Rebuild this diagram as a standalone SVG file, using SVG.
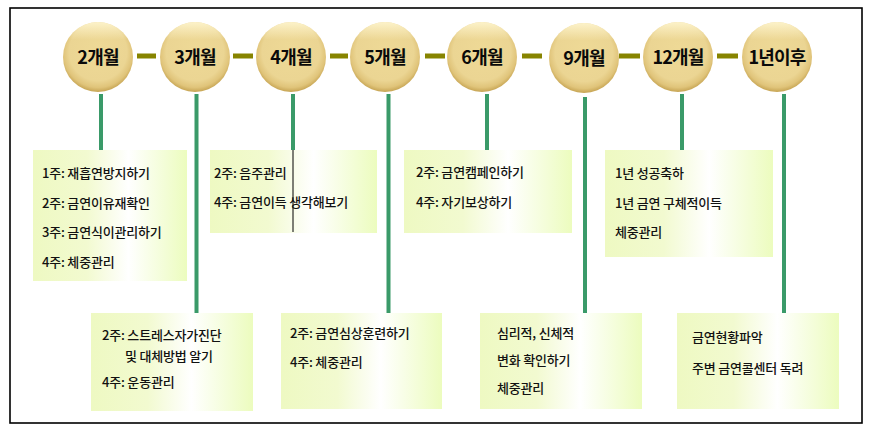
<svg xmlns="http://www.w3.org/2000/svg" width="871" height="431" viewBox="0 0 871 431">
<defs>
<radialGradient id="ball" cx="0.5" cy="0.45" r="0.55" fx="0.5" fy="0.35">
<stop offset="0" stop-color="#eed996"/>
<stop offset="0.75" stop-color="#ebd593"/>
<stop offset="0.9" stop-color="#e0c47a"/>
<stop offset="1" stop-color="#c6a453"/>
</radialGradient>
<linearGradient id="shine" x1="0" y1="0" x2="0" y2="1">
<stop offset="0" stop-color="#fff6d0" stop-opacity="0.9"/>
<stop offset="0.25" stop-color="#fff6d0" stop-opacity="0"/>
</linearGradient>
<linearGradient id="box" x1="0" y1="0" x2="1" y2="0">
<stop offset="0" stop-color="#eef9c2"/>
<stop offset="0.35" stop-color="#f2fad0"/>
<stop offset="0.62" stop-color="#ffffff"/>
<stop offset="1" stop-color="#ecfcbe"/>
</linearGradient>
<style>
.ball{fill:url(#ball)}
.shine{fill:url(#shine)}
.lbl{font-family:"Noto Sans CJK KR","Noto Sans",sans-serif;font-size:18px;font-weight:700;fill:#0a0a0a;text-anchor:middle;letter-spacing:-0.8px}
.box{fill:url(#box)}
.t{font-family:"Noto Sans CJK KR","Noto Sans",sans-serif;font-size:13px;font-weight:500;fill:#111;letter-spacing:-0.2px}
.dash{stroke:#878400;stroke-width:5}
.vl{stroke:#3a9a69;stroke-width:4}
</style>
</defs>
<rect x="10" y="8" width="852" height="415" fill="#fff" stroke="#000" stroke-width="1.6"/>
<g id="connectors">
<line class="dash" x1="137" y1="56" x2="156" y2="56"/>
<line class="dash" x1="233" y1="56" x2="253" y2="56"/>
<line class="dash" x1="330" y1="56" x2="348" y2="56"/>
<line class="dash" x1="425" y1="56" x2="445" y2="56"/>
<line class="dash" x1="522" y1="56" x2="542" y2="56"/>
<line class="dash" x1="619" y1="56" x2="640" y2="56"/>
<line class="dash" x1="717" y1="56" x2="738" y2="56"/>
<line class="vl" x1="101" y1="94" x2="101" y2="150"/>
<line class="vl" x1="196.5" y1="94" x2="196.5" y2="313"/>
<line class="vl" x1="293" y1="94" x2="293" y2="150"/>
<line class="vl" x1="388.5" y1="94" x2="388.5" y2="313"/>
<line class="vl" x1="487" y1="94" x2="487" y2="150"/>
<line class="vl" x1="585" y1="97" x2="585" y2="313"/>
<line class="vl" x1="682" y1="94" x2="682" y2="150"/>
<line class="vl" x1="784" y1="94" x2="784" y2="313"/>
</g>
<g id="m2"><circle class="ball" cx="98" cy="57" r="35"/><circle class="shine" cx="98" cy="57" r="35"/><text class="lbl" x="98" y="64">2개월</text></g>
<g id="m3"><circle class="ball" cx="195" cy="57" r="35"/><circle class="shine" cx="195" cy="57" r="35"/><text class="lbl" x="195" y="64">3개월</text></g>
<g id="m4"><circle class="ball" cx="291" cy="57" r="35"/><circle class="shine" cx="291" cy="57" r="35"/><text class="lbl" x="291" y="64">4개월</text></g>
<g id="m5"><circle class="ball" cx="385" cy="57" r="35"/><circle class="shine" cx="385" cy="57" r="35"/><text class="lbl" x="385" y="64">5개월</text></g>
<g id="m6"><circle class="ball" cx="482" cy="57" r="35"/><circle class="shine" cx="482" cy="57" r="35"/><text class="lbl" x="482" y="64">6개월</text></g>
<g id="m9"><circle class="ball" cx="584" cy="58" r="35"/><circle class="shine" cx="584" cy="58" r="35"/><text class="lbl" x="584" y="65">9개월</text></g>
<g id="m12"><circle class="ball" cx="678" cy="57" r="35"/><circle class="shine" cx="678" cy="57" r="35"/><text class="lbl" x="678" y="64">12개월</text></g>
<g id="y1"><circle class="ball" cx="777" cy="57" r="35"/><circle class="shine" cx="777" cy="57" r="35"/><text class="lbl" x="777" y="64">1년이후</text></g>
<g id="box-m2"><rect class="box" x="33" y="150" width="154" height="131"/>
<text class="t" x="42" y="178">1주: 재흡연방지하기</text>
<text class="t" x="42" y="208">2주: 금연이유재확인</text>
<text class="t" x="42" y="237">3주: 금연식이관리하기</text>
<text class="t" x="42" y="267">4주: 체중관리</text></g>
<g id="box-m4"><rect class="box" x="210" y="150" width="167" height="83"/>
<line x1="293" y1="150" x2="293" y2="232" stroke="#000" stroke-width="1"/>
<text class="t" x="214" y="178">2주: 음주관리</text>
<text class="t" x="214" y="207">4주: 금연이득 생각해보기</text></g>
<g id="box-m6"><rect class="box" x="404" y="150" width="168" height="83"/>
<text class="t" x="416" y="177">2주: 금연캠페인하기</text>
<text class="t" x="416" y="207">4주: 자기보상하기</text></g>
<g id="box-m12"><rect class="box" x="605" y="150" width="168" height="107"/>
<text class="t" x="615" y="178">1년 성공축하</text>
<text class="t" x="615" y="208">1년 금연 구체적이득</text>
<text class="t" x="615" y="237">체중관리</text></g>
<g id="box-m3"><rect class="box" x="91" y="313" width="162" height="98"/>
<text class="t" x="102" y="340">2주: 스트레스자가진단</text>
<text class="t" x="125" y="361">및 대체방법 알기</text>
<text class="t" x="102" y="387">4주: 운동관리</text></g>
<g id="box-m5"><rect class="box" x="281" y="313" width="161" height="96"/>
<text class="t" x="290" y="338">2주: 금연심상훈련하기</text>
<text class="t" x="290" y="367">4주: 체중관리</text></g>
<g id="box-m9"><rect class="box" x="480" y="313" width="162" height="96"/>
<text class="t" x="497" y="338">심리적, 신체적</text>
<text class="t" x="497" y="365">변화 확인하기</text>
<text class="t" x="497" y="393">체중관리</text></g>
<g id="box-y1"><rect class="box" x="677" y="313" width="162" height="96"/>
<text class="t" x="692" y="342">금연현황파악</text>
<text class="t" x="692" y="373">주변 금연콜센터 독려</text></g>
</svg>
